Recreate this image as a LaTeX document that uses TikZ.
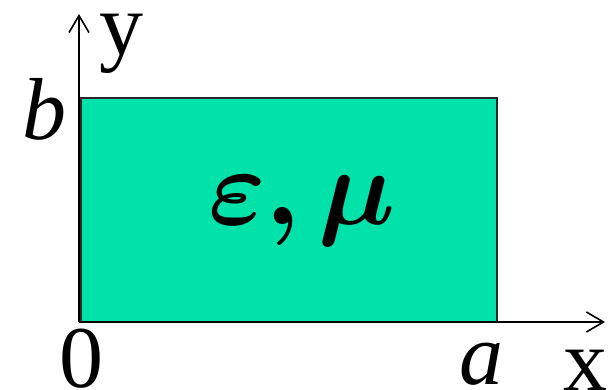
\documentclass[tikz,border=0pt]{standalone}
\usepackage{bm}
\usepackage{fontspec}
\setmainfont{Liberation Serif}
\usetikzlibrary{arrows.meta}
\definecolor{regfill}{RGB}{0,226,170}
\tikzset{
  axis/.style={line width=1.6pt, -{Straight Barb[length=17pt,width=20pt,line width=1.6pt]}},
  lbl/.style={inner sep=0pt, anchor=base, font=\fontsize{88}{96}\selectfont},
  mathlbl/.style={inner sep=0pt, anchor=base, scale=10.9},
}
\begin{document}
\begin{tikzpicture}[x=1pt,y=-1pt]
\useasboundingbox (0,0) rectangle (614,390);
\fill[regfill] (81,98) rectangle (497,322);
\draw[line width=2.2pt, black!85] (81,98) rectangle (497,322);
\coordinate (O) at (79,322);
\coordinate (ytip) at (79,14);
\coordinate (xtip) at (605,322);
\draw[axis] (O) -- (ytip);
\draw[axis] (O) -- (xtip);
\node[lbl] (ylab) at (121,55) {y};
\node[lbl] (blab) at (45,140) {\itshape b};
\node[lbl] (zlab) at (81,388) {0};
\node[lbl] (alab) at (481,385) {\itshape a};
\node[lbl] (xlab) at (585,391) {x};
\node[mathlbl] (em) at (302,225) {$\bm{\varepsilon,\mu}$};
\end{tikzpicture}
\end{document}
